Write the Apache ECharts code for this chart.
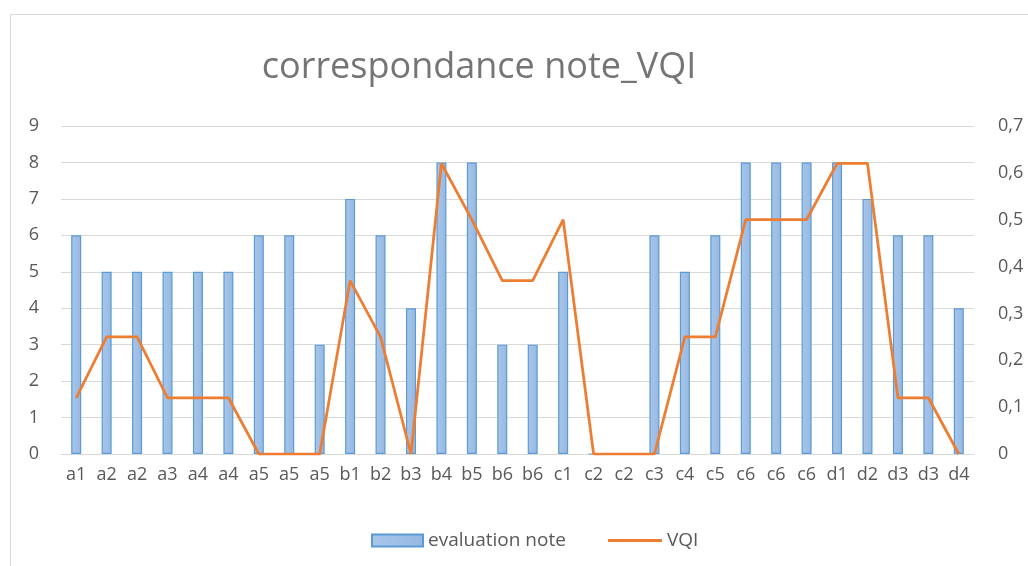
<!DOCTYPE html>
<html>
<head>
<meta charset="utf-8">
<script src="https://cdn.jsdelivr.net/npm/echarts@6/dist/echarts.min.js"></script>
<style>
  html, body { margin: 0; padding: 0; background: #ffffff; }
  #chart { width: 1028px; height: 566px; }
</style>
</head>
<body>
<div id="chart"></div>
<script>
// Category labels along the x axis
const categories = ['a1','a2','a2','a3','a4','a4','a5','a5','a5','b1','b2','b3','b4','b5','b6','b6',
  'c1','c2','c2','c3','c4','c5','c6','c6','c6','d1','d2','d3','d3','d4'];

// Evaluation note (left axis, bars)
const evaluationNote = [6,5,5,5,5,5,6,6,3,7,6,4,8,8,3,3,5,0,0,6,5,6,8,8,8,8,7,6,6,4];

// VQI (right axis, line)
const vqi = [0.12,0.25,0.25,0.12,0.12,0.12,0,0,0,0.37,0.25,0,0.62,0.5,0.37,0.37,
  0.5,0,0,0,0.25,0.25,0.5,0.5,0.5,0.62,0.62,0.12,0.12,0];

const FONT = 'Open Sans';
const TEXT = '#595959';
const GRID = '#d9d9d9';

const chart = echarts.init(document.getElementById('chart'), null, { renderer: 'canvas' });

const legendText = { fontFamily: FONT, fontSize: 19, color: TEXT };

chart.setOption({
  animation: false,
  backgroundColor: '#ffffff',
  textStyle: { fontFamily: FONT },
  title: {
    text: 'correspondance note_VQI',
    left: 474,
    top: 45,
    textAlign: 'center',
    textStyle: { fontFamily: FONT, fontSize: 36, fontWeight: 'normal', color: '#757575' }
  },
  graphic: [{
    type: 'rect',
    shape: { x: 10.5, y: 14.5, width: 1040, height: 600 },
    style: { fill: 'none', stroke: GRID, lineWidth: 1 },
    silent: true
  }],
  legend: [
    {
      top: 526,
      left: 366,
      itemWidth: 51,
      itemHeight: 12,
      itemGap: 6,
      textStyle: legendText,
      data: [{ name: 'evaluation note', icon: 'rect' }]
    },
    {
      top: 526,
      left: 603,
      itemWidth: 54,
      itemHeight: 3,
      textStyle: legendText,
      data: [{ name: 'VQI', icon: 'rect' }]
    }
  ],
  grid: { left: 61, right: 54, top: 126, bottom: 112, containLabel: false },
  xAxis: {
    type: 'category',
    data: categories,
    axisLine: { show: true, lineStyle: { color: GRID, width: 1 } },
    axisTick: { show: false },
    axisLabel: { color: TEXT, fontSize: 18, fontFamily: FONT, margin: 12, interval: 0 }
  },
  yAxis: [
    {
      type: 'value',
      min: 0, max: 9, interval: 1,
      axisLine: { show: false },
      axisTick: { show: false },
      splitLine: { lineStyle: { color: GRID, width: 1 } },
      axisLabel: { color: TEXT, fontSize: 18, fontFamily: FONT, margin: 22 }
    },
    {
      type: 'value',
      min: 0, max: 0.7, interval: 0.1,
      axisLine: { show: false },
      axisTick: { show: false },
      splitLine: { show: false },
      axisLabel: {
        color: TEXT, fontSize: 18, fontFamily: FONT, margin: 24,
        formatter: v => String(Math.round(v * 10) / 10).replace('.', ',')
      }
    }
  ],
  series: [
    {
      name: 'evaluation note',
      type: 'bar',
      yAxisIndex: 0,
      data: evaluationNote,
      barWidth: 10,
      itemStyle: {
        color: new echarts.graphic.LinearGradient(0, 0, 1, 0, [
          { offset: 0, color: '#a9c6ea' },
          { offset: 1, color: '#95b8e2' }
        ]),
        borderColor: '#5b9bd5',
        borderWidth: 1.2
      }
    },
    {
      name: 'VQI',
      type: 'line',
      yAxisIndex: 1,
      data: vqi,
      symbol: 'none',
      lineStyle: { color: '#ed7d31', width: 2.75 },
      itemStyle: { color: '#ed7d31' }
    }
  ]
});
</script>
</body>
</html>
